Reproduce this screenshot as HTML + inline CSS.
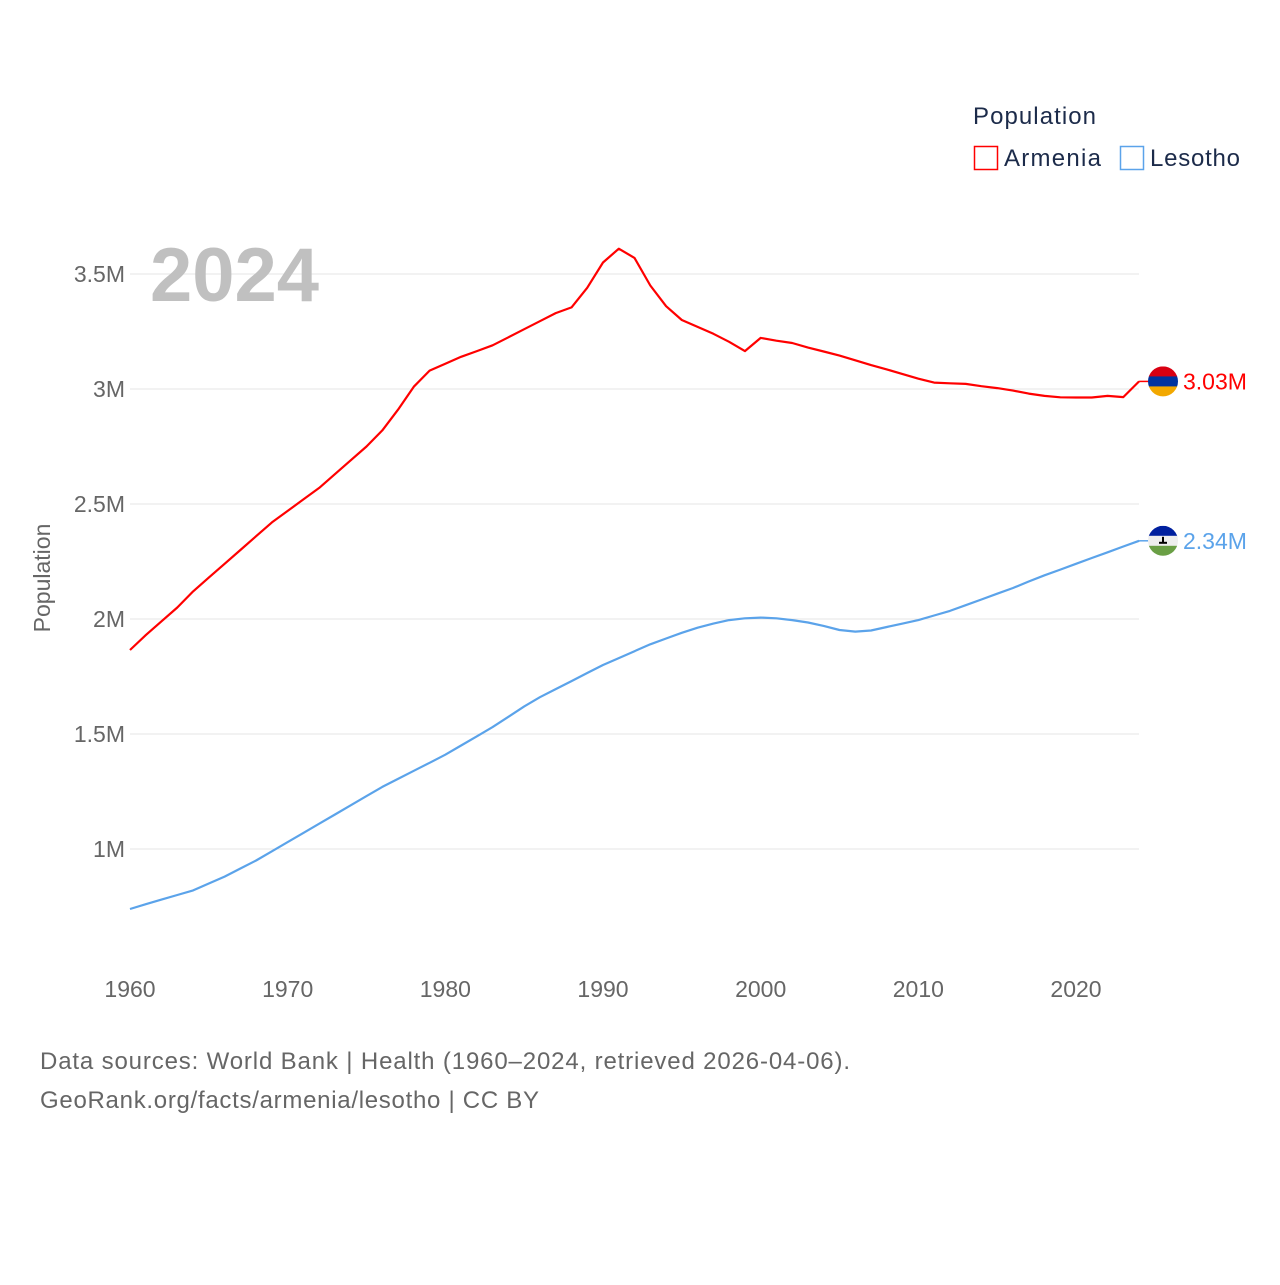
<!DOCTYPE html>
<html><head><meta charset="utf-8"><style>
body{margin:0;background:#fff;font-family:"Liberation Sans",sans-serif;}
svg text{font-family:"Liberation Sans",sans-serif;}
</style></head><body>
<svg id="chart" width="1280" height="1280" xmlns="http://www.w3.org/2000/svg">
<rect width="1280" height="1280" fill="#fff"/>
<g id="grid"></g>
<text x="150" y="301" font-size="76" font-weight="bold" fill="#c0c0c0">2024</text>
<g id="yticks"></g>
<g id="xticks"></g>
<text transform="translate(50,578) rotate(-90)" text-anchor="middle" font-size="23" fill="#666">Population</text>
<g id="lines"></g>
<g>
<text x="973" y="124" font-size="24" fill="#1c2b4a" textLength="123">Population</text>
<g><rect x="974.5" y="146.5" width="23" height="23" fill="none" stroke="#ff0000" stroke-width="1.5"/><text x="1004" y="166" font-size="24" fill="#1c2b4a" textLength="97">Armenia</text></g>
<g><rect x="1120.5" y="146.5" width="23" height="23" fill="none" stroke="#5ba3ea" stroke-width="1.5"/><text x="1150" y="166" font-size="24" fill="#1c2b4a" textLength="90">Lesotho</text></g>
</g>
<text x="40" y="1069" font-size="24" fill="#666" textLength="810">Data sources: World Bank | Health (1960–2024, retrieved 2026-04-06).</text>
<text x="40" y="1108" font-size="24" fill="#666" textLength="499">GeoRank.org/facts/armenia/lesotho | CC BY</text>
</svg>
<script>
const years = [];for(let y=1960;y<=2024;y++)years.push(y);
const armenia = [1.865,1.93,1.99,2.05,2.12,2.18,2.24,2.30,2.36,2.42,2.47,2.52,2.57,2.63,2.69,2.75,2.82,2.91,3.01,3.08,3.11,3.14,3.165,3.19,3.225,3.26,3.295,3.33,3.355,3.44,3.55,3.61,3.57,3.45,3.36,3.30,3.27,3.24,3.205,3.165,3.222,3.21,3.20,3.18,3.163,3.145,3.125,3.104,3.085,3.065,3.045,3.028,3.025,3.022,3.012,3.004,2.993,2.98,2.97,2.964,2.963,2.963,2.97,2.965,3.033];
const lesotho = [0.739,0.76,0.78,0.80,0.82,0.85,0.88,0.915,0.95,0.99,1.03,1.07,1.11,1.15,1.19,1.23,1.27,1.305,1.34,1.375,1.41,1.45,1.49,1.53,1.575,1.62,1.66,1.695,1.73,1.765,1.80,1.83,1.86,1.89,1.915,1.94,1.962,1.98,1.995,2.003,2.006,2.003,1.995,1.985,1.97,1.952,1.945,1.95,1.965,1.98,1.995,2.015,2.035,2.06,2.085,2.11,2.135,2.163,2.19,2.215,2.24,2.265,2.29,2.315,2.34];
const yTicks = [1,1.5,2,2.5,3,3.5];
const yTickLabels = ["1M","1.5M","2M","2.5M","3M","3.5M"];
const xTicks = [1960,1970,1980,1990,2000,2010,2020];
const lastLabels = ["3.03M","2.34M"];
const X = yr => 130 + (yr-1960)*15.767;
const Y = v => 389 - (v-3)*230;
const NS="http://www.w3.org/2000/svg";
function mk(tag,attrs,parent){const e=document.createElementNS(NS,tag);for(const k in attrs)e.setAttribute(k,attrs[k]);parent.appendChild(e);return e;}
const grid=document.getElementById('grid'),yt=document.getElementById('yticks'),xt=document.getElementById('xticks'),lines=document.getElementById('lines');
yTicks.forEach((v,i)=>{
 const l=mk('line',{x1:130,x2:1139,y1:Y(v),y2:Y(v),stroke:'#e6e6e6','stroke-width':1},grid);
 
 
 const t=mk('text',{x:125,y:Y(v)+8,'text-anchor':'end','font-size':23,fill:'#666'},yt);
 t.textContent=yTickLabels[i];
 
 
});
xTicks.forEach(yr=>{
 const t=mk('text',{x:X(yr),y:997,'text-anchor':'middle','font-size':23,fill:'#666'},xt);
 t.textContent=yr;
 
 
});
function series(vals,color,name,label,flag){
 const d=vals.map((v,i)=>(i?'L':'M')+X(years[i]).toFixed(1)+','+Y(v).toFixed(1)).join('');
 const p=mk('path',{d:d,fill:'none',stroke:color,'stroke-width':2.2,'stroke-linejoin':'round'},lines);
 
 
 const lx=X(2024), ly=Y(vals[vals.length-1]);
 mk('line',{x1:lx,x2:lx+10,y1:ly,y2:ly,stroke:color,'stroke-width':1.5},lines);
 const g=mk('g',{},lines);
 
 
 const cx=1163,cy=ly,r=15;
 const cid='clip'+name;
 const cp=mk('clipPath',{id:cid},g);mk('circle',{cx:cx,cy:cy,r:r},cp);
 const fg=mk('g',{'clip-path':'url(#'+cid+')'},g);
 flag.forEach((c,i)=>mk('rect',{x:cx-r,y:cy-r+i*(2*r/3),width:2*r,height:2*r/3+0.5,fill:c},fg));
 if(name==='lesotho'){mk('rect',{x:cx-1,y:cy-4,width:2,height:6,fill:'#000'},fg);mk('rect',{x:cx-4,y:cy+1,width:8,height:2,fill:'#000'},fg);}
 const t=mk('text',{x:1183,y:ly+8,'font-size':23,fill:color},lines);
 t.textContent=label;
 
 
}
series(armenia,'#ff0000','armenia',lastLabels[0],['#d90012','#0033a0','#f2a800']);
series(lesotho,'#5ba3ea','lesotho',lastLabels[1],['#00209f','#eeeeee','#6a9f45']);
</script>
</body></html>
